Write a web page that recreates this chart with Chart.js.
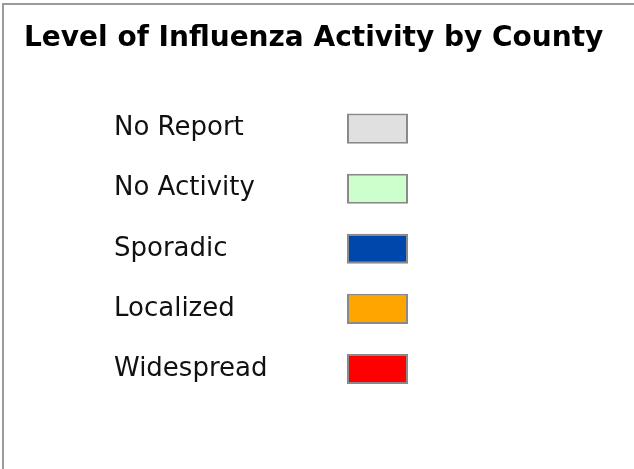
<!DOCTYPE html>
<html>
	<head>
		<meta charset="UTF-8">
		<style>
			body { margin: 0; overflow: hidden; background: #fff; }
			#frame { position: absolute; left: 2px; top: 3px; width: 800px; height: 800px; border-left: 2px solid #9a9a9a; border-top: 2px solid #9a9a9a; }
			#myChart { position: absolute; left: 0; top: 0; }
		</style>
	</head>
	<script src="https://cdn.jsdelivr.net/npm/chart.js"></script>
	<body>
		<div id="frame"></div>
		<canvas id="myChart" width="634" height="469"></canvas>
		<script>
			// legend categories and their swatch colours
			var levels = ["No Report", "No Activity", "Sporadic", "Localized", "Widespread"];
			var swatch = [1, 1, 1, 1, 1];
			var colors = ["#e0e0e0", "#ccffcc", "#0047ab", "#ffa500", "#ff0000"];

			// empty axis used only to reserve horizontal space
			var spacer = function (pos, w) {
				return {
					type: "category",
					position: pos,
					axis: "y",
					weight: 1,
					grid: { display: false },
					border: { display: false },
					ticks: { display: false },
					afterFit: function (s) { s.width = w; }
				};
			};

			new Chart("myChart", {
				type: "bar",
				data: {
					labels: levels,
					datasets: [{
						data: swatch,
						backgroundColor: colors,
						borderColor: "#8a8a8a",
						borderWidth: 2,
						borderSkipped: false,
						barPercentage: 0.5,
						categoryPercentage: 1
					}]
				},
				options: {
					indexAxis: "y",
					responsive: false,
					animation: false,
					layout: { padding: { left: 24, right: 4, top: 0, bottom: 70 } },
					plugins: {
						legend: { display: false },
						tooltip: { enabled: false },
						title: {
							display: true,
							text: "Level of Influenza Activity by County",
							align: "start",
							color: "#000",
							font: { family: "DejaVu Sans", size: 28, weight: "bold" },
							padding: { top: 22, bottom: 43 }
						}
					},
					scales: {
						x: { display: false, min: 0, max: 1 },
						y: {
							weight: 0,
							grid: { display: false },
							border: { display: false },
							ticks: {
								crossAlign: "far",
								color: "#111",
								font: { family: "DejaVu Sans", size: 26 }
							},
							afterFit: function (s) { s.width = 233; }
						},
						gapLeft: spacer("left", 90),
						gapRight: spacer("right", 222)
					}
				}
			});
		</script>
	</body>
</html>
